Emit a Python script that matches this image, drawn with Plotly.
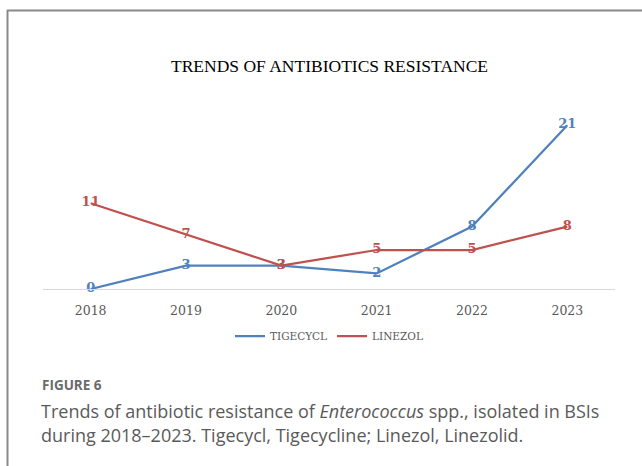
import plotly.graph_objects as go

years = ["2018", "2019", "2020", "2021", "2022", "2023"]
tigecycl = [0, 3, 3, 2, 8, 21]
linezol = [11, 7, 3, 5, 5, 8]
series_names = ["TIGECYCL", "LINEZOL"]
colors = ["#4F81BD", "#C0504D"]

W, H = 642, 466
L, R, T, B = 43, 27, 94, 177
pw, ph = W - L - R, H - T - B

def px(x):
    return (x - L) / pw

def py(y):
    return (H - B - y) / ph

fig = go.Figure()
for name, vals, col in zip(series_names, [tigecycl, linezol], colors):
    fig.add_trace(go.Scatter(
        x=years, y=vals, name=name, mode="lines+text",
        text=[str(v) for v in vals], textposition="middle center",
        textfont=dict(family="DejaVu Serif", size=13, color=col, weight="bold"),
        line=dict(color=col, width=2.25),
        cliponaxis=False,
    ))

fig.update_layout(
    width=W, height=H,
    margin=dict(l=L, r=R, t=T, b=B),
    paper_bgcolor="white", plot_bgcolor="white",
    showlegend=True,
    legend=dict(orientation="h", x=0.5, xanchor="center", y=py(336), yanchor="middle",
                font=dict(family="DejaVu Serif", size=10.5, color="#595959"),
                itemwidth=30, bgcolor="rgba(0,0,0,0)"),
    xaxis=dict(range=[-0.5, 5.5], showgrid=False, showline=True, linecolor="#D9D9D9", linewidth=1,
               ticks="", ticklabelstandoff=10,
               tickfont=dict(family="DejaVu Serif", size=12.5, color="#595959"),
               zeroline=False, fixedrange=True),
    yaxis=dict(range=[0, 25], showgrid=False, showline=False, showticklabels=False,
               zeroline=False, fixedrange=True),
)

annotations = [
    dict(text="TRENDS OF ANTIBIOTICS RESISTANCE", x=px(329), y=py(66), xref="paper", yref="paper",
         showarrow=False, xanchor="center", yanchor="middle",
         font=dict(family="Liberation Serif", size=17.5, color="#000000")),
    dict(text="<b>FIGURE 6</b>", x=px(40), y=py(385), xref="paper", yref="paper",
         showarrow=False, xanchor="left", yanchor="middle",
         font=dict(family="Open Sans", size=13.5, color="#6b6b6b")),
    dict(text="Trends of antibiotic resistance of <i>Enterococcus</i> spp., isolated in BSIs",
         x=px(39), y=py(411), xref="paper", yref="paper",
         showarrow=False, xanchor="left", yanchor="middle",
         font=dict(family="Open Sans", size=18, color="#5a5a5a")),
    dict(text="during 2018\u20132023. Tigecycl, Tigecycline; Linezol, Linezolid.",
         x=px(39), y=py(435), xref="paper", yref="paper",
         showarrow=False, xanchor="left", yanchor="middle",
         font=dict(family="Open Sans", size=18, color="#5a5a5a")),
]
fig.update_layout(annotations=annotations)

border = dict(color="#8A8A8A", width=2)
fig.update_layout(shapes=[
    dict(type="line", xref="paper", yref="paper", x0=px(7), x1=px(645), y0=py(10.5), y1=py(10.5), line=border),
    dict(type="line", xref="paper", yref="paper", x0=px(7.5), x1=px(7.5), y0=py(10), y1=py(470), line=border),
])

fig.write_html("out.html")
